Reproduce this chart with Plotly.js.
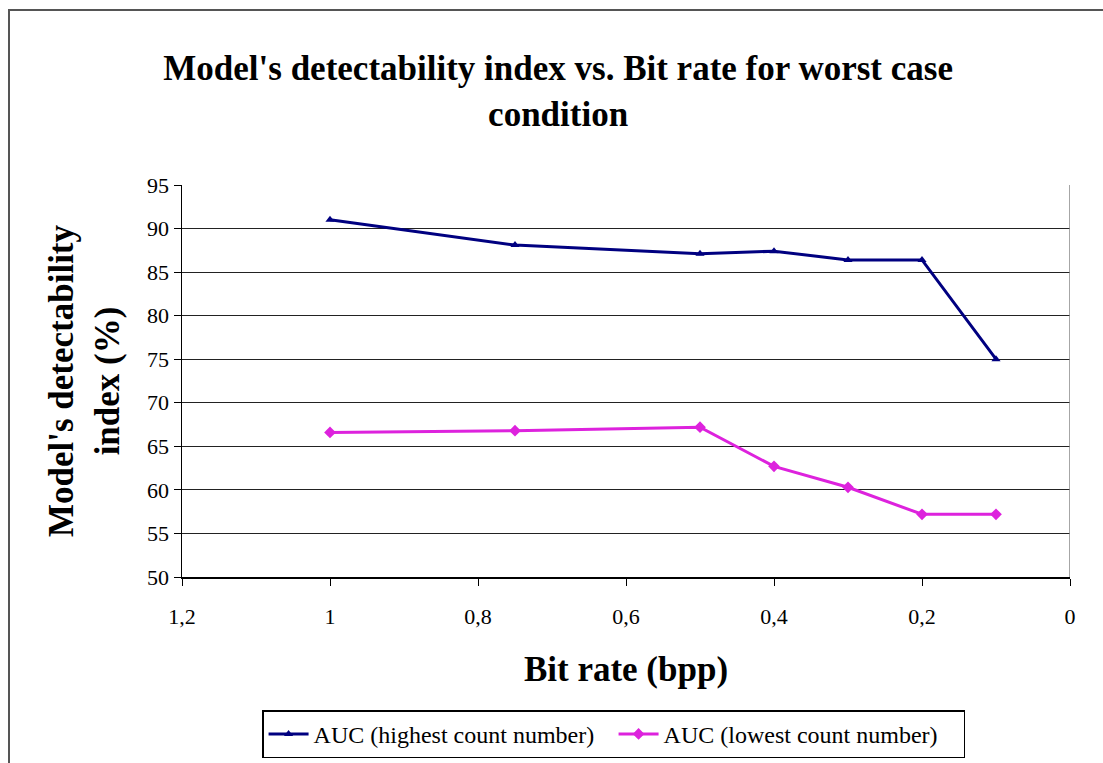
<!DOCTYPE html>
<html>
<head>
<meta charset="utf-8">
<script src="https://cdn.plot.ly/plotly-3.0.1.min.js"></script>
<style>
html,body{margin:0;padding:0;background:#fff;overflow:hidden;}
#wrap{position:relative;width:1103px;height:763px;overflow:hidden;}
#chart{width:1103px;height:763px;}
#frame{position:absolute;left:8px;top:9px;width:1200px;height:900px;border:2px solid #555;pointer-events:none;}
</style>
</head>
<body>
<div id="wrap"><div id="chart"></div><div id="frame"></div></div>
<script>
const bitRate = [1, 0.75, 0.5, 0.4, 0.3, 0.2, 0.1];
const aucHighest = [91.0, 88.1, 87.1, 87.4, 86.4, 86.4, 75.0];
const aucLowest = [66.6, 66.8, 67.2, 62.7, 60.3, 57.2, 57.2];
const seriesNames = ['AUC (highest count number)', 'AUC (lowest count number)'];
const xTicks = [1.2, 1, 0.8, 0.6, 0.4, 0.2, 0];
const yTicks = [50, 55, 60, 65, 70, 75, 80, 85, 90, 95];

const serif = 'Liberation Serif, Times New Roman, serif';

const traces = [
  {x: bitRate, y: aucHighest, name: seriesNames[0], mode: 'lines+markers',
   line: {color: '#000080', width: 3}, marker: {symbol: 'triangle-up', size: 8, color: '#000080'}},
  {x: bitRate, y: aucLowest, name: seriesNames[1], mode: 'lines+markers',
   line: {color: '#dd22dd', width: 3}, marker: {symbol: 'diamond', size: 9, color: '#dd22dd'}}
];

const layout = {
  width: 1103, height: 763,
  margin: {l: 182, r: 33, t: 185, b: 186, autoexpand: false},
  paper_bgcolor: '#fff', plot_bgcolor: '#fff',
  separators: ',.',
  font: {family: serif, color: '#000', size: 20},
  title: {text: "<b>Model's detectability index vs. Bit rate for worst case<br>condition</b>",
          font: {family: serif, size: 35, color: '#000'}, x: 0.506, xanchor: 'center',
          y: 0.895, yanchor: 'middle', yref: 'container'},
  xaxis: {range: [1.2, 0], tickvals: xTicks, ticks: 'outside', ticklen: 7, tickcolor: '#000',
          showline: true, linecolor: '#000', linewidth: 1.5, showgrid: false, zeroline: false,
          automargin: false, ticklabelstandoff: 12,
          tickfont: {family: serif, size: 22, color: '#000'},
          title: {text: '<b>Bit rate (bpp)</b>', font: {family: serif, size: 35, color: '#000'}, standoff: 28}},
  yaxis: {range: [50, 95], tickvals: yTicks, ticks: 'outside', ticklen: 7, tickcolor: '#000',
          showline: true, linecolor: '#000', linewidth: 1.5, showgrid: true, gridcolor: '#222', gridwidth: 1,
          zeroline: false, automargin: false, tickfont: {family: serif, size: 22, color: '#000'},
          title: {text: "<b>Model's detectability<br>index (%)</b>", font: {family: serif, size: 35, color: '#000'}, standoff: 17}},
  showlegend: true,
  legend: {orientation: 'h', x: 0.486, xanchor: 'center', y: -0.34, yanchor: 'top',
           bordercolor: '#000', borderwidth: 1.5, font: {family: serif, size: 24, color: '#000'},
           bgcolor: '#fff', itemwidth: 40, entrywidth: 295, valign: 'middle'},
  shapes: [{type: 'line', xref: 'x', yref: 'paper', x0: 0, x1: 0, y0: 0, y1: 1,
            line: {color: '#888', width: 1.5}}]
};

Plotly.newPlot('chart', traces, layout, {displayModeBar: false, staticPlot: true});
</script>
</body>
</html>
